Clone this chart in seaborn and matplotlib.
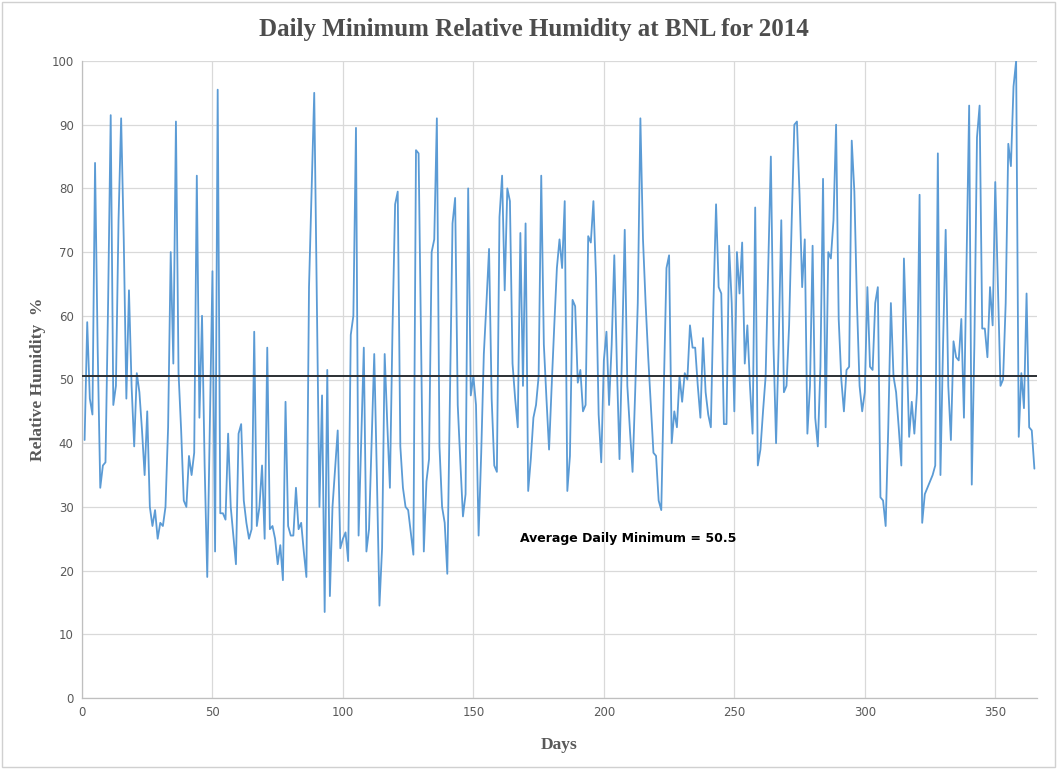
import matplotlib
matplotlib.use("Agg")
import matplotlib.pyplot as plt
import pandas as pd
import seaborn as sns
from matplotlib.patches import Rectangle

# daily minimum relative humidity (%), days 1..365
RH_JAN_FEB = [
    40.5, 59, 47, 44.5, 84, 55, 33, 36.5, 37, 62,
    91.5, 46, 49, 75, 91, 72, 47, 64, 49, 39.5,
    51, 48, 42, 35, 45, 30, 27, 29.5, 25, 27.5,
    27, 30, 42.5, 70, 52.5, 90.5, 51, 42, 31, 30,
    38, 35, 38.5, 82, 44, 60, 36.5, 19, 42.5, 67,
    23, 95.5, 29, 29, 28, 41.5, 30, 25.5, 21,
]
RH_MAR_APR = [
    41.5, 43, 31, 27.5, 25, 26.5, 57.5, 27, 30, 36.5,
    25, 55, 26.5, 27, 25, 21, 24, 18.5, 46.5, 27,
    25.5, 25.5, 33, 26.5, 27.5, 23, 19, 64.5, 80, 95,
    62, 30, 47.5, 13.5, 51.5, 16, 30, 36, 42, 23.5,
    25, 26, 21.5, 57, 60, 89.5, 25.5, 40, 55, 23,
    26.5, 40, 54, 35, 14.5, 23.5, 54, 43, 33, 58,
    77.5,
]
RH_MAY_JUN = [
    79.5, 39.5, 33, 30, 29.5, 26, 22.5, 86, 85.5, 54,
    23, 34, 37.5, 70, 72, 91, 39.5, 30, 27.5, 19.5,
    47, 74.5, 78.5, 46, 37, 28.5, 32, 80, 47.5, 50.5,
    46, 25.5, 38.5, 54, 62, 70.5, 47, 36.5, 35.5, 75.5,
    82, 64, 80, 78, 52.5, 47, 42.5, 73, 49, 74.5,
    32.5, 37.5, 44, 46, 50.5, 82, 55.5, 47, 39, 49,
    58.5,
]
RH_JUL_AUG = [
    67.5, 72, 67.5, 78, 32.5, 38, 62.5, 61.5, 49.5, 51.5,
    45, 46, 72.5, 71.5, 78, 66, 44.5, 37, 53, 57.5,
    46, 55.5, 69.5, 52, 37.5, 55, 73.5, 49, 42, 35.5,
    48, 62, 91, 72, 62, 53.5, 46, 38.5, 38, 31,
    29.5, 49, 67.5, 69.5, 40, 45, 42.5, 50.5, 46.5, 51,
    50, 58.5, 55, 55, 49, 44, 56.5, 48, 44.5, 42.5,
    62, 77.5,
]
RH_SEP_OCT = [
    64.5, 63.5, 43, 43, 71, 62, 45, 70, 63.5, 71.5,
    52.5, 58.5, 49, 41.5, 77, 36.5, 39, 45, 50.5, 68,
    85, 55.5, 40, 55.5, 75, 48, 49, 58.5, 75, 90,
    90.5, 79, 64.5, 72, 41.5, 49, 71, 44, 39.5, 52,
    81.5, 42.5, 70, 69, 75, 90, 59.5, 50, 45, 51.5,
    52, 87.5, 79.5, 62, 49, 45, 48, 64.5, 52, 51.5,
    62, 64.5,
]
RH_NOV_DEC = [
    31.5, 31, 27, 42.5, 62, 50.5, 48, 42.5, 36.5, 69,
    55.5, 41, 46.5, 41.5, 48, 79, 27.5, 32, 33, 34,
    35, 36.5, 85.5, 35, 55.5, 73.5, 49, 40.5, 56, 53.5,
    53, 59.5, 44, 68.5, 93, 33.5, 55.5, 88, 93, 58,
    58, 53.5, 64.5, 58.5, 81, 65, 49, 50, 62, 87,
    83.5, 96, 100, 41, 51, 45.5, 63.5, 42.5, 42, 36,
]
AVG_DAILY_MIN = 50.5

TITLE = "Daily Minimum Relative Humidity at BNL for 2014"
X_LABEL = "Days"
Y_LABEL = "Relative Humidity  %"
NOTE = f"Average Daily Minimum = {AVG_DAILY_MIN}"

rh = RH_JAN_FEB + RH_MAR_APR + RH_MAY_JUN + RH_JUL_AUG + RH_SEP_OCT + RH_NOV_DEC
df = pd.DataFrame({"day": range(1, len(rh) + 1), "rh": rh})

sns.set_theme(style="whitegrid")
plt.rcParams["font.family"] = ["DejaVu Sans"]

fig = plt.figure(figsize=(10.58, 7.69), dpi=100)
ax = fig.add_axes([82 / 1058, 1 - 698 / 769, (1037 - 82) / 1058, (698 - 61) / 769])

sns.lineplot(data=df, x="day", y="rh", ax=ax, color="#5B9BD5", linewidth=1.3)
ax.axhline(AVG_DAILY_MIN, color="#2b2f33", linewidth=1.4, zorder=3)

ax.set_xlim(0, 366)
ax.set_ylim(0, 100)
ax.set_xticks(range(0, 351, 50))
ax.set_yticks(range(0, 101, 10))
ax.grid(True, color="#d9d9d9", linewidth=0.9)
ax.tick_params(axis="both", length=0, labelsize=8.5, labelcolor="#595959", pad=6)

for side in ["top", "right"]:
    ax.spines[side].set_visible(False)
for side in ["left", "bottom"]:
    ax.spines[side].set_color("#bfbfbf")
    ax.spines[side].set_linewidth(0.9)

serif = ["Liberation Serif", "DejaVu Serif"]
ax.set_xlabel(X_LABEL, family=serif, fontsize=12.5, fontweight="bold", color="#595959", labelpad=13)
ax.set_ylabel(Y_LABEL, family=serif, fontsize=12.5, fontweight="bold", color="#595959", labelpad=4)
fig.text(0.505, 0.961, TITLE, family=serif, fontsize=18, fontweight="bold",
         color="#4d4d4d", ha="center", va="center")

ax.text(168, 25, NOTE, fontsize=9, fontweight="bold", color="black", ha="left", va="center")

fig.patches.append(Rectangle((0.002, 0.003), 0.995, 0.994, transform=fig.transFigure,
                             fill=False, edgecolor="#d0d0d0", linewidth=1))

fig.savefig("out.png", dpi=100)
